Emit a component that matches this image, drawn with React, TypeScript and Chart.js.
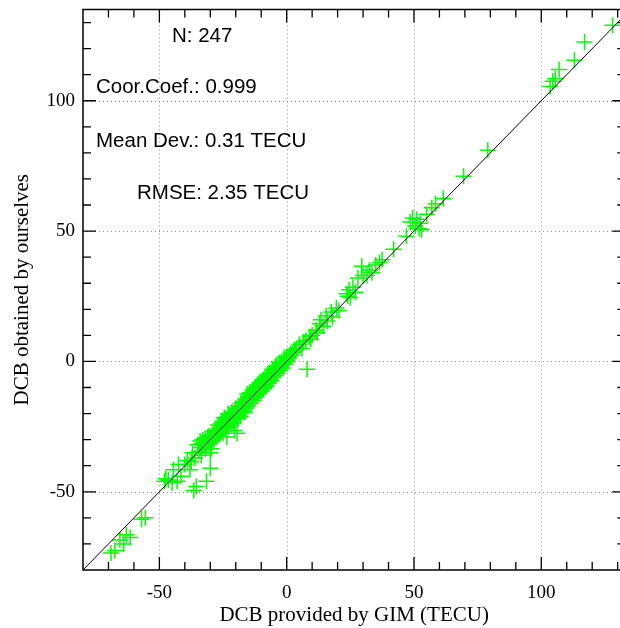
import React, { useEffect, useRef } from 'react';
import { Chart, registerables } from 'chart.js';

Chart.register(...registerables);

// DCB provided by GIM (x) vs DCB obtained by ourselves (y), TECU
const lowTail: [number, number][] = [
  [-69, -73.5], [-67.5, -72.5], [-65.5, -68.5], [-64, -70], [-63, -66.5], [-61.5, -67.5],
  [-57, -60.5], [-55.5, -60], [-48, -46], [-47.5, -45], [-46.5, -45.5], [-45, -46.5],
  [-43, -46], [-44.5, -41.5], [-41.5, -44], [-42.5, -39.5], [-40, -39.5], [-39, -38],
];

const midScatter: [number, number][] = [
  [-36.5, -49.5], [-35.5, -48], [-31.5, -46], [-30, -41], [-38, -41.5], [-37.5, -38.5],
  [-36, -37], [-37, -35], [-34.5, -34.5], [-33.5, -36], [-35, -32], [-33, -32],
  [-34, -30.5], [-32, -33.5], [-30.5, -31.5], [-29.5, -33.5], [-30, -35], [-28.5, -29.5],
  [-31, -29], [-29, -28], [-27.5, -26.5], [-26.5, -28], [-25, -25.5], [-24, -24],
  [-23.5, -29], [-20.5, -26.5], [-19.5, -27.5], [-25.5, -23], [-22.5, -22.5], [-21, -21.5],
  [-24.5, -21.5], [-23, -20], [-26, -26],
];

const denseCluster: [number, number][] = [
  [-22, -24], [-21.5, -19.5], [-20, -21.5], [-20, -18], [-19.5, -21], [-19, -17],
  [-18.5, -20], [-18, -16], [-18, -19.5], [-17.5, -18], [-17, -15.5], [-17, -19],
  [-16.5, -17], [-16, -14.5], [-16, -18], [-15.5, -16], [-15, -13.5], [-15, -17],
  [-14.5, -15], [-14, -12.5], [-14, -16], [-13.5, -14], [-13, -11.5], [-13, -15],
  [-12.5, -13], [-12, -10.5], [-12, -13.5], [-11.5, -12], [-11, -9.5], [-11, -12.5],
  [-10.5, -11], [-10, -8.5], [-10, -11.5], [-9.5, -10], [-9, -7.5], [-9, -10.5],
  [-8.5, -9], [-8, -6.5], [-8, -9.5], [-7.5, -8], [-7, -5.5], [-7, -8.5],
  [-6.5, -7], [-6, -4.5], [-6, -7.5], [-5.5, -6], [-5, -4.5], [-5, -3],
  [-4.5, -5.5], [-4, -3.5], [-4, -1.5], [-3.5, -4.5], [-3, -2.5], [-3, -0.5],
  [-2.5, -3.5], [-2, -1.5], [-2, 0], [-1.5, -2.5], [-1, -0.5], [-1, 1.5],
  [-0.5, 0], [0, 0.5], [0, 2], [0.5, 1], [1, 1.5], [1.5, 3],
  [2, 2.5], [2.5, 3.5], [3, 4.5], [3.5, 4], [4, 5], [5, 6.5],
  [-27, -24.5], [-28, -27], [-26, -24], [-25, -27.5], [-24, -22], [-23, -25],
  [-22.5, -20.5], [-21, -23.5], [-19, -22], [-18, -21], [-16.5, -19.5], [-15.5, -12.5],
  [-14.5, -12], [-13.5, -11], [-12.5, -10], [-11.5, -9], [-10.5, -8], [-9.5, -7],
  [-8.5, -6], [-7.5, -5], [-6.5, -4.5], [-5.5, -3], [-4.5, -2],
  [-32, -29.5], [-33, -30], [-31, -30.5], [-30, -29], [-29, -30.5], [-28, -28.5],
  [-27, -28], [-26.5, -25.5], [-25.5, -24.5],
  [-34, -33], [-33.5, -31.5], [-32.5, -31], [-31.5, -32.5], [-30.5, -28.5], [-29.5, -29],
  [-28.5, -27], [-27.5, -29], [-26, -27], [-25, -23.5], [-24, -25.5], [-23, -22],
  [-22, -22], [-21, -20], [-20.5, -22], [-19.5, -18.5], [-18.5, -17.5], [-17.5, -16],
  [-16.5, -15.5], [-15.5, -15], [-14.5, -14], [-13.5, -13], [-12.5, -12], [-11.5, -11],
  [-10.5, -10], [-9.5, -9], [-8.5, -8], [-7.5, -7], [-6.5, -6], [-5.5, -5],
  [-4.5, -4], [-3.5, -3], [-2.5, -2], [-1.5, -1], [-0.5, -1], [0.5, 0],
];

const upperBranch: [number, number][] = [
  [6, 5], [6.5, 7.5], [7.5, 8], [8, -3], [9, 9.5], [9.5, 8.5], [10, 10], [11.5, 12],
  [12, 11], [13, 14.5], [13.5, 16], [14.5, 13.5], [15.5, 17.5], [16, 15.5], [17.5, 19],
  [18, 17], [19.5, 20.5], [20.5, 19.5], [23.5, 26], [24, 25], [24.5, 27.5], [25, 24.5],
  [26, 28.5], [27, 26.5], [28, 32], [29.5, 36.5], [30, 33], [31.5, 33], [32.5, 35],
  [33.5, 34], [35, 37], [36.5, 38], [37.5, 39], [42, 43], [47, 48], [48.5, 53.5],
  [49.5, 55], [50.5, 52], [51, 54.5], [52, 51], [53, 50.5], [52.5, 53], [55, 56.5],
  [57, 59], [58.5, 60.5], [61.5, 62.5], [69.5, 71], [79, 81], [103.5, 105.5],
  [104.5, 107.5], [105.5, 108.5], [107, 112], [113, 115.5], [117, 122.5], [128, 129],
];

const fitLine: [number, number][] = [[-80, -80], [133, 133]];

const xRange = [-80, 133];
const yRange = [-80, 135];
const xTickValues = [-50, 0, 50, 100];
const yTickValues = [-50, 0, 50, 100];
const minorStep = 10;

const statTexts = ['N: 247', 'Coor.Coef.: 0.999', 'Mean Dev.: 0.31 TECU', 'RMSE: 2.35 TECU'];
const xTitle = 'DCB provided by GIM (TECU)';
const yTitle = 'DCB obtained by ourselves';

export default function App() {
  const ref = useRef<HTMLCanvasElement | null>(null);

  useEffect(() => {
    if (!ref.current) return;
    const points = [...lowTail, ...midScatter, ...denseCluster, ...upperBranch].map(([x, y]) => ({ x, y }));

    const framePlugin = {
      id: 'framePlugin',
      beforeDatasetsDraw(chart: any) {
        const { ctx, chartArea: a, scales } = chart;
        const xs = scales.x, ys = scales.y;
        ctx.save();
        ctx.strokeStyle = '#8c8c8c';
        ctx.lineWidth = 1;
        ctx.setLineDash([1, 3]);
        xTickValues.forEach((v) => {
          const px = Math.round(xs.getPixelForValue(v)) + 0.5;
          ctx.beginPath(); ctx.moveTo(px, a.top); ctx.lineTo(px, a.bottom); ctx.stroke();
        });
        yTickValues.forEach((v) => {
          const py = Math.round(ys.getPixelForValue(v)) + 0.5;
          ctx.beginPath(); ctx.moveTo(a.left, py); ctx.lineTo(a.right, py); ctx.stroke();
        });
        ctx.restore();
      },
      afterDatasetsDraw(chart: any) {
        const { ctx, chartArea: a, scales } = chart;
        const xs = scales.x, ys = scales.y;
        ctx.save();
        ctx.strokeStyle = '#000';
        ctx.lineWidth = 1.5;
        ctx.setLineDash([]);
        ctx.strokeRect(a.left, a.top, a.right - a.left, a.bottom - a.top);
        ctx.lineWidth = 1.3;
        for (let v = Math.ceil(xRange[0] / minorStep) * minorStep; v <= xRange[1]; v += minorStep) {
          if (v <= xRange[0] || v >= xRange[1]) continue;
          const len = v % 50 === 0 ? 13 : 8;
          const px = xs.getPixelForValue(v);
          ctx.beginPath();
          ctx.moveTo(px, a.bottom); ctx.lineTo(px, a.bottom - len);
          ctx.moveTo(px, a.top); ctx.lineTo(px, a.top + len);
          ctx.stroke();
        }
        for (let v = Math.ceil(yRange[0] / minorStep) * minorStep; v <= yRange[1]; v += minorStep) {
          if (v <= yRange[0] || v >= yRange[1]) continue;
          const len = v % 50 === 0 ? 13 : 8;
          const py = ys.getPixelForValue(v);
          ctx.beginPath();
          ctx.moveTo(a.left, py); ctx.lineTo(a.left + len, py);
          ctx.moveTo(a.right, py); ctx.lineTo(a.right - len, py);
          ctx.stroke();
        }
        ctx.fillStyle = '#000';
        ctx.font = '20.5px "Liberation Sans", Arial, sans-serif';
        ctx.textBaseline = 'alphabetic';
        const offs = [[89, 32.5], [13, 83.5], [13, 137.5], [54, 189.5]];
        statTexts.forEach((t, i) => {
          ctx.fillText(t, a.left + offs[i][0], a.top + offs[i][1]);
        });
        ctx.restore();
      },
    };

    const serif = '"Liberation Serif", "Times New Roman", serif';

    const chart = new Chart(ref.current, {
      type: 'scatter',
      data: {
        datasets: [
          {
            type: 'line',
            data: fitLine.map(([x, y]) => ({ x, y })),
            borderColor: '#000',
            borderWidth: 1,
            pointRadius: 0,
            fill: false,
          } as any,
          {
            type: 'scatter',
            data: points,
            pointStyle: 'cross',
            pointRadius: 8,
            pointBorderWidth: 1.5,
            borderColor: '#00ff00',
            backgroundColor: '#00ff00',
          } as any,
        ],
      },
      options: {
        responsive: false,
        animation: false,
        events: [],
        layout: { padding: { left: 0, top: 9.5, right: 14.7, bottom: 0 } },
        plugins: { legend: { display: false }, tooltip: { enabled: false } },
        scales: {
          x: {
            type: 'linear',
            min: xRange[0],
            max: xRange[1],
            grid: { display: false, drawTicks: false },
            border: { display: false },
            afterBuildTicks: (s: any) => { s.ticks = xTickValues.map((value) => ({ value })); },
            afterFit: (s: any) => { s.height = 58; s.paddingLeft = 0; s.paddingRight = 0; },
            ticks: {
              color: '#000',
              padding: 11.5,
              font: { family: serif, size: 19 },
            },
            title: {
              display: true,
              text: xTitle,
              color: '#000',
              padding: { top: 0, bottom: 0 },
              font: { family: serif, size: 21 },
            },
          },
          y: {
            type: 'linear',
            min: yRange[0],
            max: yRange[1],
            grid: { display: false, drawTicks: false },
            border: { display: false },
            afterBuildTicks: (s: any) => { s.ticks = yTickValues.map((value) => ({ value })); },
            afterFit: (s: any) => { s.width = 83; s.paddingTop = 0; s.paddingBottom = 0; },
            ticks: {
              color: '#000',
              padding: 8,
              font: { family: serif, size: 19 },
            },
            title: {
              display: true,
              text: yTitle,
              color: '#000',
              padding: { top: 9.5, bottom: 0 },
              font: { family: serif, size: 21 },
            },
          },
        },
      },
      plugins: [framePlugin],
    });
    return () => chart.destroy();
  }, []);

  return (
    <div style={{ position: 'absolute', left: 0, top: 0, width: 620, height: 628, overflow: 'hidden', background: '#fff' }}>
      <canvas ref={ref} width={640} height={628} style={{ display: 'block' }} />
    </div>
  );
}
